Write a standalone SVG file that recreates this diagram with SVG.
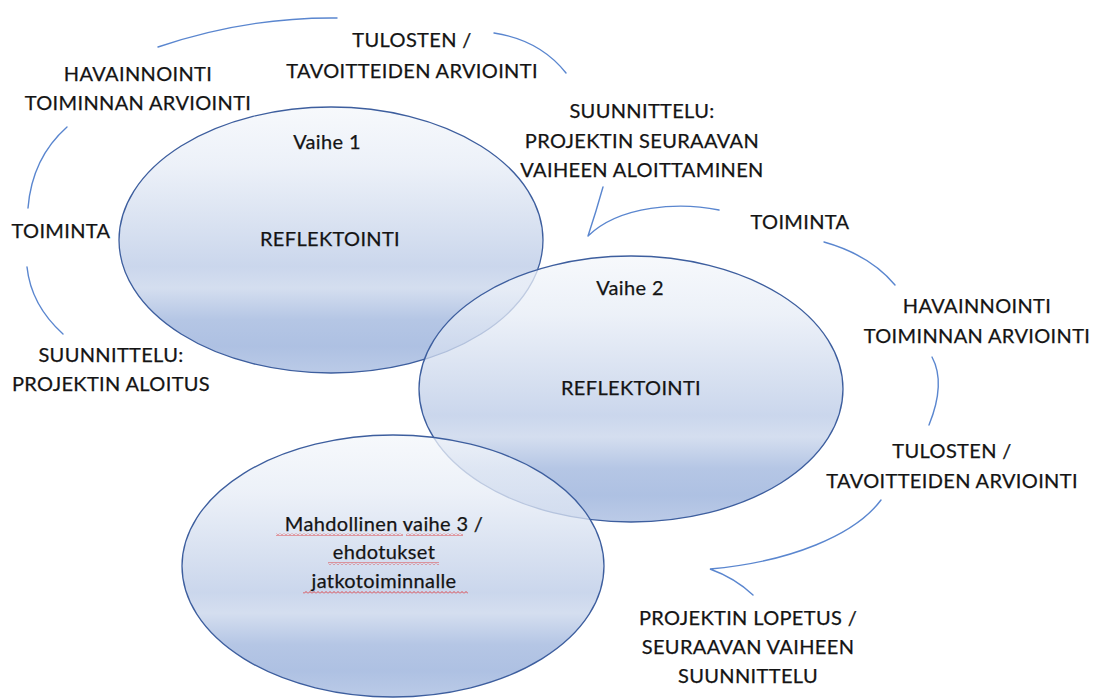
<svg xmlns="http://www.w3.org/2000/svg" width="1097" height="698" viewBox="0 0 1097 698">
  <defs>
    <!-- banded top-to-bottom shading of the phase ellipses -->
    <linearGradient id="phaseFill" x1="0" y1="0" x2="0" y2="1">
      <stop offset="0" stop-color="#f4f7fb"/>
      <stop offset="0.22" stop-color="#e6ecf6"/>
      <stop offset="0.45" stop-color="#cbd7ec"/>
      <stop offset="0.6" stop-color="#b9c9e6"/>
      <stop offset="0.68" stop-color="#c6d3ea"/>
      <stop offset="0.8" stop-color="#9cb3dc"/>
      <stop offset="0.9" stop-color="#93acd9"/>
      <stop offset="1" stop-color="#a4b9df"/>
    </linearGradient>
    <!-- spell-check squiggle -->
    <pattern id="squiggle" width="4" height="3" patternUnits="userSpaceOnUse">
      <path d="M0 2.5 L2 0.5 L4 2.5" fill="none" stroke="#e02020" stroke-width="0.8"/>
    </pattern>
  </defs>
  <style>
    .phase { fill: url(#phaseFill); fill-opacity: 0.75; stroke: #3d5e9e; stroke-width: 1.3; }
    .cycle { fill: none; stroke: #5a86cf; stroke-width: 1.4; stroke-linecap: round; }
    text { font-family: Lato, "Liberation Sans", sans-serif; font-size: 20px; letter-spacing: 0.35px; fill: #141414; stroke: #141414; stroke-width: 0.25; text-anchor: middle; }
    .spell { fill: url(#squiggle); }
  </style>

  <!-- phase ellipses -->
  <g id="phase1">
    <ellipse class="phase" cx="331" cy="240" rx="212" ry="133"/>
    <text x="327" y="149">Vaihe 1</text>
    <text x="330" y="246">REFLEKTOINTI</text>
  </g>
  <g id="phase2">
    <ellipse class="phase" cx="631" cy="389" rx="212" ry="133"/>
    <text x="630" y="295">Vaihe 2</text>
    <text x="631" y="395">REFLEKTOINTI</text>
  </g>
  <g id="phase3">
    <ellipse class="phase" cx="393" cy="566" rx="211" ry="131"/>
    <text x="384" y="531">Mahdollinen vaihe 3 /</text>
    <text x="384" y="559">ehdotukset</text>
    <text x="384" y="588">jatkotoiminnalle</text>
    <rect class="spell" x="276" y="533" width="127" height="3"/>
    <rect class="spell" x="406" y="533" width="57" height="3"/>
    <rect class="spell" x="328" y="562" width="111" height="3"/>
    <rect class="spell" x="303" y="591" width="165" height="3"/>
  </g>

  <!-- cycle connectors -->
  <g id="connectors">
    <path class="cycle" d="M158 47 Q246 17 337 18"/>
    <path class="cycle" d="M494 33 Q540 40 566 73"/>
    <path class="cycle" d="M67 127 Q32 158 28 208"/>
    <path class="cycle" d="M27 267 Q31 305 63 334"/>
    <path class="cycle" d="M719 210 C680 202 620 205 588 236 M603 187 Q596 212 588 236"/>
    <path class="cycle" d="M824 242 Q870 255 895 285"/>
    <path class="cycle" d="M932 357 Q946 383 929 425"/>
    <path class="cycle" d="M881 500 C855 535 790 562 710 569 Q735 578 753 595"/>
  </g>

  <!-- cycle step labels -->
  <g id="label-tulosten1">
    <text x="412" y="47">TULOSTEN /</text>
    <text x="412" y="78">TAVOITTEIDEN ARVIOINTI</text>
  </g>
  <g id="label-havainnointi1">
    <text x="138" y="81">HAVAINNOINTI</text>
    <text x="138" y="110">TOIMINNAN ARVIOINTI</text>
  </g>
  <g id="label-suunnittelu2">
    <text x="642" y="118">SUUNNITTELU:</text>
    <text x="642" y="148">PROJEKTIN SEURAAVAN</text>
    <text x="642" y="177">VAIHEEN ALOITTAMINEN</text>
  </g>
  <g id="label-toiminta1">
    <text x="61" y="238">TOIMINTA</text>
  </g>
  <g id="label-suunnittelu1">
    <text x="111" y="362">SUUNNITTELU:</text>
    <text x="111" y="391">PROJEKTIN ALOITUS</text>
  </g>
  <g id="label-toiminta2">
    <text x="800" y="229">TOIMINTA</text>
  </g>
  <g id="label-havainnointi2">
    <text x="977" y="313">HAVAINNOINTI</text>
    <text x="977" y="343">TOIMINNAN ARVIOINTI</text>
  </g>
  <g id="label-tulosten2">
    <text x="952" y="458">TULOSTEN /</text>
    <text x="952" y="488">TAVOITTEIDEN ARVIOINTI</text>
  </g>
  <g id="label-lopetus">
    <text x="748" y="625">PROJEKTIN LOPETUS /</text>
    <text x="748" y="654">SEURAAVAN VAIHEEN</text>
    <text x="748" y="683">SUUNNITTELU</text>
  </g>
</svg>
